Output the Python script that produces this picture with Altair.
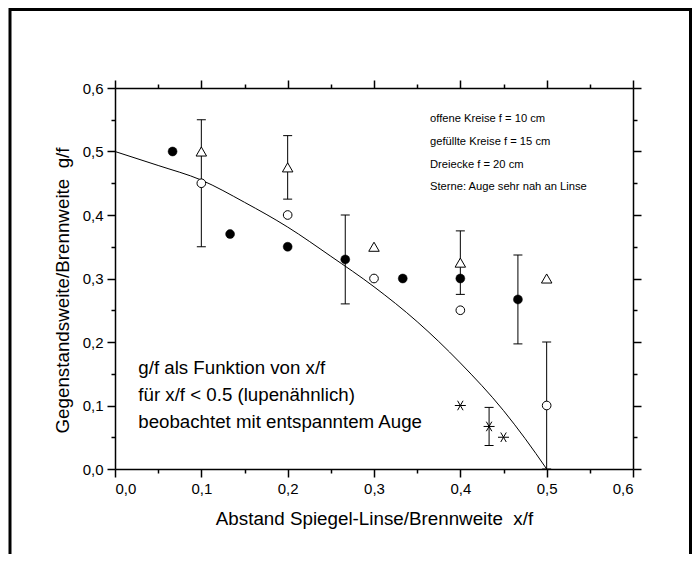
import altair as alt
import pandas as pd

# ---- data ----
open_x = [0.1, 0.2, 0.3, 0.4, 0.5]
open_y = [0.45, 0.40, 0.30, 0.25, 0.10]
filled_x = [0.0667, 0.1333, 0.2, 0.2667, 0.3333, 0.4, 0.4667]
filled_y = [0.50, 0.37, 0.35, 0.33, 0.30, 0.30, 0.267]
tri_x = [0.1, 0.2, 0.3, 0.4, 0.5]
tri_y = [0.50, 0.475, 0.35, 0.325, 0.30]
star_x = [0.4, 0.4333, 0.45]
star_y = [0.10, 0.067, 0.05]
err_x = [0.1, 0.2, 0.2667, 0.4, 0.4667, 0.5, 0.4333]
err_lo = [0.35, 0.425, 0.26, 0.275, 0.197, 0.0, 0.037]
err_hi = [0.55, 0.525, 0.40, 0.375, 0.337, 0.20, 0.097]
curve_x = [0.0, 0.05, 0.1, 0.15, 0.2, 0.25, 0.3, 0.35, 0.4, 0.45, 0.475, 0.5]
curve_y = [0.5, 0.478, 0.455, 0.42, 0.381, 0.335, 0.287, 0.232, 0.167, 0.092, 0.048, 0.0]
major_ticks = [0.0, 0.1, 0.2, 0.3, 0.4, 0.5, 0.6]
minor_ticks = [0.05, 0.15, 0.25, 0.35, 0.45, 0.55]
legend_lines = ["offene Kreise f = 10 cm", "gefüllte Kreise f = 15 cm",
                "Dreiecke f = 20 cm", "Sterne: Auge sehr nah an Linse"]
note_lines = ["g/f als Funktion von x/f", "für x/f < 0.5 (lupenähnlich)",
              "beobachtet mit entspanntem Auge"]
x_title = "Abstand Spiegel-Linse/Brennweite\u00a0 x/f"
y_title = "Gegenstandsweite/Brennweite\u00a0 g/f"

FONT = "Liberation Sans"
W, H = 518, 381

df_open = pd.DataFrame({"x": open_x, "y": open_y})
df_filled = pd.DataFrame({"x": filled_x, "y": filled_y})
df_tri = pd.DataFrame({"x": tri_x, "y": tri_y})
df_star = pd.DataFrame({"x": star_x, "y": star_y})
df_err = pd.DataFrame({"x": err_x, "lo": err_lo, "hi": err_hi})
df_caps = pd.DataFrame({"x": err_x + err_x, "y": err_lo + err_hi})
df_curve = pd.DataFrame({"x": curve_x, "y": curve_y})

SX = alt.Scale(domain=[0, 0.6], nice=False, zero=False)
SY = alt.Scale(domain=[0, 0.6], nice=False, zero=False)

LABEL_EXPR = "replace(format(datum.value, '.1f'), '.', ',')"


def axis(orient, major, labels=False, **extra):
    d = dict(orient=orient,
             values=major_ticks if major else minor_ticks,
             tickSize=8 if major else 4, tickWidth=1.5, tickColor="black",
             domain=major, domainColor="black", domainWidth=1.5,
             grid=False, labels=labels, ticks=True)
    if labels:
        d.update(labelExpr=LABEL_EXPR, labelFont=FONT, labelFontSize=15,
                 labelColor="black", labelPadding=4)
    d.update(extra)
    if "title" not in d:
        d["title"] = None
    return alt.Axis(**d)


title_common = dict(titleFont=FONT, titleFontSize=18.8, titleFontWeight="normal",
                    titleColor="black")

ax_bottom = axis("bottom", True, labels=True, title=x_title, titleX=W / 2, titleY=55,
                 titleAlign="center", titleBaseline="alphabetic", titleAngle=0,
                 **title_common)
ax_left = axis("left", True, labels=True, title=y_title, titleX=-53, titleY=202,
               titleAlign="center", titleBaseline="middle", titleAngle=270,
               **title_common)

frame = alt.Chart(pd.DataFrame({"a": [0]})).mark_rect(
    fillOpacity=0, stroke="black", strokeWidth=3
).encode(x=alt.value(-105), x2=alt.value(575.5), y=alt.value(-78.5), y2=alt.value(700))

curve = alt.Chart(df_curve).mark_line(color="black", strokeWidth=1, interpolate="monotone").encode(
    x=alt.X("x:Q", scale=SX, axis=ax_bottom),
    y=alt.Y("y:Q", scale=SY, axis=ax_left),
)

rules = alt.Chart(df_err).mark_rule(color="black", strokeWidth=1).encode(
    x=alt.X("x:Q", scale=SX, axis=None),
    y=alt.Y("lo:Q", scale=SY, axis=None),
    y2="hi:Q",
)

caps = alt.Chart(df_caps).mark_point(shape="M-1,0L1,0", size=81, filled=False,
                                     stroke="black", strokeWidth=1, opacity=1).encode(
    x=alt.X("x:Q", scale=SX, axis=None),
    y=alt.Y("y:Q", scale=SY, axis=None),
)

opens = alt.Chart(df_open).mark_point(shape="circle", size=75, filled=True, fill="white",
                                      stroke="black", strokeWidth=1, opacity=1).encode(
    x=alt.X("x:Q", scale=SX, axis=axis("top", True)),
    y=alt.Y("y:Q", scale=SY, axis=axis("right", True)),
)

filled = alt.Chart(df_filled).mark_point(shape="circle", size=80, filled=True, fill="black",
                                         stroke="black", strokeWidth=0.5, opacity=1).encode(
    x=alt.X("x:Q", scale=SX, axis=axis("bottom", False)),
    y=alt.Y("y:Q", scale=SY, axis=axis("left", False)),
)

tris = alt.Chart(df_tri).mark_point(shape="triangle-up", size=110, filled=True, fill="white",
                                    stroke="black", strokeWidth=1, opacity=1).encode(
    x=alt.X("x:Q", scale=SX, axis=axis("top", False)),
    y=alt.Y("y:Q", scale=SY, axis=axis("right", False)),
)

stars = alt.Chart(df_star).mark_point(
    shape="M-1,0L1,0M-0.5,-0.866L0.5,0.866M-0.5,0.866L0.5,-0.866",
    size=121, filled=False, stroke="black", strokeWidth=1, opacity=1).encode(
    x=alt.X("x:Q", scale=SX, axis=None),
    y=alt.Y("y:Q", scale=SY, axis=None),
)

texts = []
for i, line in enumerate(legend_lines):
    texts.append(alt.Chart(pd.DataFrame({"a": [0]})).mark_text(
        align="left", baseline="middle", font=FONT, fontSize=11.2, color="black"
    ).encode(x=alt.value(315), y=alt.value(31.3 + i * 22.7), text=alt.value(line)))
for i, line in enumerate(note_lines):
    texts.append(alt.Chart(pd.DataFrame({"a": [0]})).mark_text(
        align="left", baseline="alphabetic", font=FONT, fontSize=18.7, color="black"
    ).encode(x=alt.value(23.3), y=alt.value(286 + i * 27), text=alt.value(line)))

chart = alt.layer(frame, curve, rules, caps, opens, filled, tris, stars, *texts).resolve_axis(
    x="independent", y="independent"
).properties(
    width=W, height=H, autosize="none",
    padding={"left": 107, "top": 80, "right": 59, "bottom": 85},
    background="white",
).configure_view(stroke="transparent")

chart.save("out.html", embed_options={"renderer": "svg", "actions": False})
